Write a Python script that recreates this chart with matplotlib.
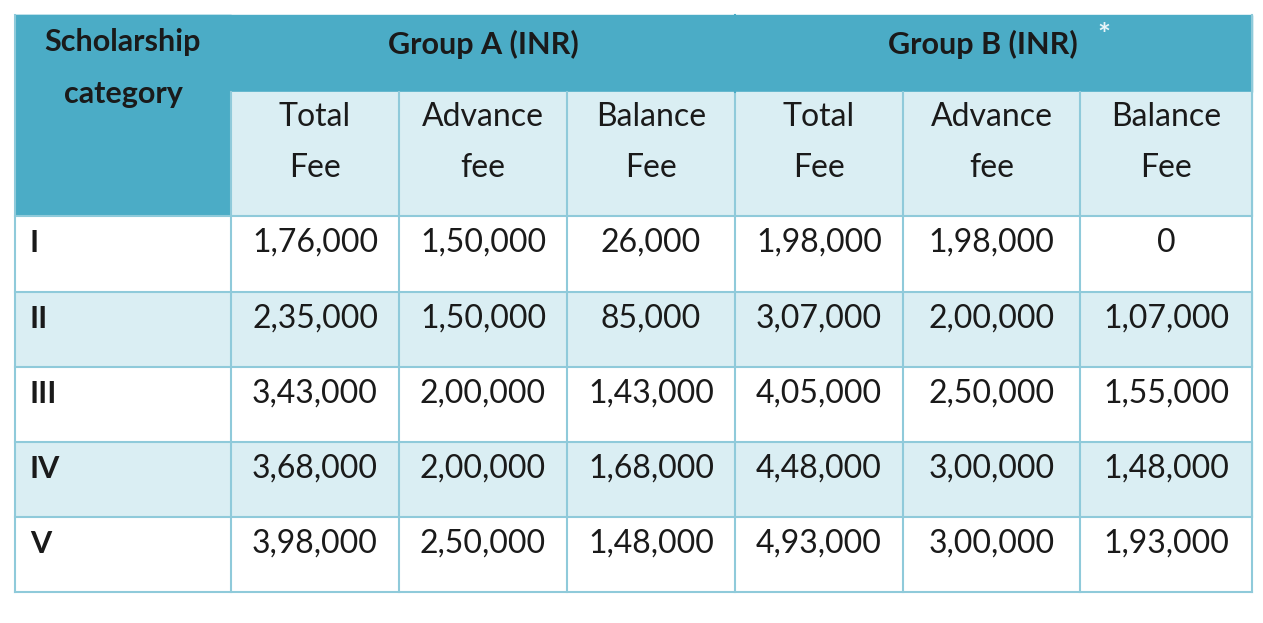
import matplotlib
matplotlib.use("Agg")
import matplotlib.pyplot as plt
from matplotlib.patches import Rectangle

categories = ["I", "II", "III", "IV", "V"]
group_a_total = ["1,76,000", "2,35,000", "3,43,000", "3,68,000", "3,98,000"]
group_a_adv = ["1,50,000", "1,50,000", "2,00,000", "2,00,000", "2,50,000"]
group_a_bal = ["26,000", "85,000", "1,43,000", "1,68,000", "1,48,000"]
group_b_total = ["1,98,000", "3,07,000", "4,05,000", "4,48,000", "4,93,000"]
group_b_adv = ["1,98,000", "2,00,000", "2,50,000", "3,00,000", "3,00,000"]
group_b_bal = ["0", "1,07,000", "1,55,000", "1,48,000", "1,93,000"]
sub_headers = ["Total\nFee", "Advance\nfee", "Balance\nFee"] * 2

plt.rcParams['font.family'] = ['Lato', 'DejaVu Sans']
fig = plt.figure(figsize=(12.63, 6.23), dpi=100)
ax = fig.add_axes([0, 0, 1, 1])
ax.set_xlim(0, 1263); ax.set_ylim(623, 0); ax.axis('off')

teal = "#4BACC6"; light = "#DAEEF3"; border = "#8FCADA"; txt = "#1a1a1a"
cols = [15, 231, 399, 567, 735, 903, 1080, 1252]
rows = [216, 292, 367, 442, 517, 592]

# header
ax.add_patch(Rectangle((15, 15), 1237, 77, color=teal, zorder=0))
ax.add_patch(Rectangle((15, 15), 216, 201, color=teal, zorder=0))
ax.add_patch(Rectangle((231, 92), 1021, 124, color=light, zorder=0))
for i in range(5):
    c = "white" if i % 2 == 0 else light
    ax.add_patch(Rectangle((15, rows[i]), 1237, rows[i+1]-rows[i], color=c, zorder=0))

lw = 1.5
for x in cols[1:-1]:
    ax.plot([x, x], [92, 592], color=border, lw=lw, zorder=1)
ax.plot([735, 735], [15, 92], color=teal, lw=lw, zorder=1)
for y in rows:
    ax.plot([15, 1252], [y, y], color=border, lw=lw, zorder=1)
ax.plot([15, 15], [15, 592], color=border, lw=lw)
ax.plot([1252, 1252], [15, 592], color=border, lw=lw)

ax.text(123, 42, "Scholarship", ha='center', va='center', fontsize=22, fontweight='bold', color=txt)
ax.text(123, 94, "category", ha='center', va='center', fontsize=22, fontweight='bold', color=txt)
ax.text(483, 44, "Group A (INR)", ha='center', va='center', fontsize=22, fontweight='bold', color=txt)
ax.text(983, 44, "Group B (INR)", ha='center', va='center', fontsize=22, fontweight='bold', color=txt)
ax.text(1097, 36, "*", ha='left', va='center', fontsize=22, fontweight='bold', color="#E8F4F8")

for j, h in enumerate(sub_headers):
    cx = (cols[j+1] + cols[j+2]) / 2
    a, b = h.split("\n")
    ax.text(cx, 117, a, ha='center', va='center', fontsize=23, color=txt)
    ax.text(cx, 168, b, ha='center', va='center', fontsize=23, color=txt)

data = [group_a_total, group_a_adv, group_a_bal, group_b_total, group_b_adv, group_b_bal]
for i, cat in enumerate(categories):
    cy = rows[i] + 27
    ax.text(30, cy, cat, ha='left', va='center', fontsize=22, fontweight='bold', color=txt)
    for j, col in enumerate(data):
        cx = (cols[j+1] + cols[j+2]) / 2
        ax.text(cx, cy, col[i], ha='center', va='center', fontsize=23, color=txt)

fig.savefig("out.png", dpi=100)
